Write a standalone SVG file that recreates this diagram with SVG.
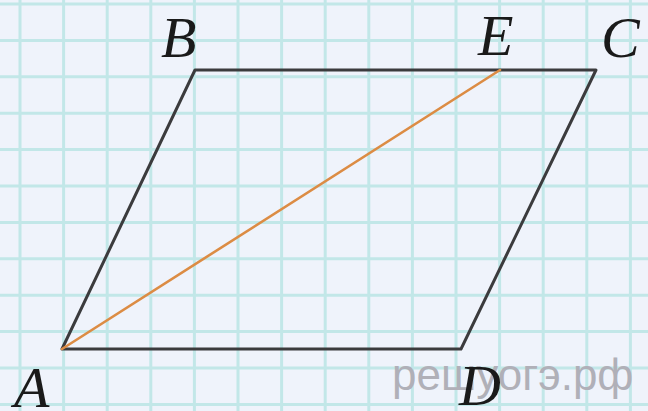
<svg xmlns="http://www.w3.org/2000/svg" width="648" height="411" viewBox="0 0 648 411">
<style>
.grid line{stroke:#c2e7e8;stroke-width:3}
.edge{stroke:#3b3b3d;stroke-width:3;fill:none;stroke-linecap:round;stroke-linejoin:round}
.diag{stroke:#dc8c44;stroke-width:2.6;fill:none;stroke-linecap:round}
.lbl{font-family:"Liberation Serif",serif;font-style:italic;font-size:58px;fill:#1a1a1a}
.wm{font-family:"Liberation Sans",sans-serif;font-size:44px;fill:#b0b0b8}
</style>
<rect width="648" height="411" fill="#eff3fb"/>
<g class="grid">
<line x1="20" y1="0" x2="20" y2="411"/>
<line x1="63.6" y1="0" x2="63.6" y2="411"/>
<line x1="107.2" y1="0" x2="107.2" y2="411"/>
<line x1="150.8" y1="0" x2="150.8" y2="411"/>
<line x1="194.4" y1="0" x2="194.4" y2="411"/>
<line x1="238" y1="0" x2="238" y2="411"/>
<line x1="281.6" y1="0" x2="281.6" y2="411"/>
<line x1="325.2" y1="0" x2="325.2" y2="411"/>
<line x1="368.8" y1="0" x2="368.8" y2="411"/>
<line x1="412.4" y1="0" x2="412.4" y2="411"/>
<line x1="456" y1="0" x2="456" y2="411"/>
<line x1="499.6" y1="0" x2="499.6" y2="411"/>
<line x1="543.2" y1="0" x2="543.2" y2="411"/>
<line x1="586.8" y1="0" x2="586.8" y2="411"/>
<line x1="630.4" y1="0" x2="630.4" y2="411"/>
<line x1="0" y1="4" x2="648" y2="4"/>
<line x1="0" y1="40.4" x2="648" y2="40.4"/>
<line x1="0" y1="76.8" x2="648" y2="76.8"/>
<line x1="0" y1="113.2" x2="648" y2="113.2"/>
<line x1="0" y1="149.6" x2="648" y2="149.6"/>
<line x1="0" y1="186" x2="648" y2="186"/>
<line x1="0" y1="222.4" x2="648" y2="222.4"/>
<line x1="0" y1="258.8" x2="648" y2="258.8"/>
<line x1="0" y1="295.2" x2="648" y2="295.2"/>
<line x1="0" y1="331.6" x2="648" y2="331.6"/>
<line x1="0" y1="368" x2="648" y2="368"/>
<line x1="0" y1="404.4" x2="648" y2="404.4"/>
</g>
<text class="wm" x="392" y="390">решуогэ.рф</text>
<g id="connectors">
<path class="edge" d="M62,349 L195,70 L596,70 L461,349 Z"/>
<line class="diag" x1="62" y1="349" x2="500" y2="70"/>
</g>
<g id="node-A"><text class="lbl" x="14" y="407">A</text></g>
<g id="node-B"><text class="lbl" x="161" y="57">B</text></g>
<g id="node-C"><text class="lbl" x="601" y="57">C</text></g>
<g id="node-D"><text class="lbl" x="459" y="405">D</text></g>
<g id="node-E"><text class="lbl" x="478" y="55">E</text></g>
</svg>
